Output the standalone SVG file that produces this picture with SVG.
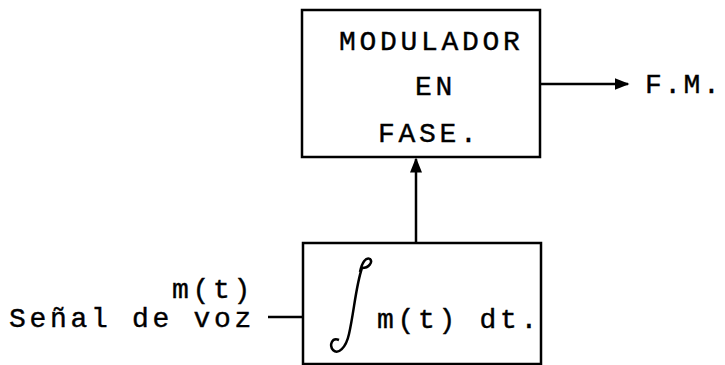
<svg xmlns="http://www.w3.org/2000/svg" width="725" height="365" viewBox="0 0 725 365">
<style>
.box{fill:none;stroke:#000;stroke-width:2.5}
.ln{fill:none;stroke:#000;stroke-width:2.5}
.t{font-family:"Liberation Mono","Courier New",monospace;font-size:28px;letter-spacing:3.7px;fill:#000;stroke:#000;stroke-width:0.4}
</style>
<defs>
<marker id="ah" viewBox="0 0 10 10" refX="9" refY="5" markerWidth="6" markerHeight="6" orient="auto" markerUnits="strokeWidth">
<path d="M0,1 L10,5 L0,9 Z" fill="#000"/>
</marker>
</defs>
<rect width="725" height="365" fill="#fff"/>
<g id="modulador">
<rect class="box" x="302" y="10" width="238" height="147"/>
<text class="t" x="339" y="50">MODULADOR</text>
<text class="t" x="415" y="95">EN</text>
<text class="t" x="378" y="142">FASE.</text>
</g>
<g id="integrador">
<rect class="box" x="303" y="243" width="238" height="121"/>
<path class="ln" d="M360 272 C362 262 366 257 370 259 C373 262 369 268 362 268 M362 268 C356 285 354 312 349 334 C346 348 338 355 333 350 C329 345 332 337 339 340"/>
<text class="t" x="377" y="328">m(t) dt.</text>
</g>
<g id="salida">
<text class="t" x="645" y="93" style="letter-spacing:2.5px">F.M.</text>
</g>
<g id="entrada">
<text class="t" x="172" y="298">m(t)</text>
<text class="t" x="9" y="327">Señal de voz</text>
</g>
<g id="connectors">
<line class="ln" x1="540" y1="84" x2="628" y2="84" marker-end="url(#ah)"/>
<line class="ln" x1="416" y1="243" x2="416" y2="159" marker-end="url(#ah)"/>
<line class="ln" x1="268" y1="317" x2="303" y2="317"/>
</g>
</svg>
